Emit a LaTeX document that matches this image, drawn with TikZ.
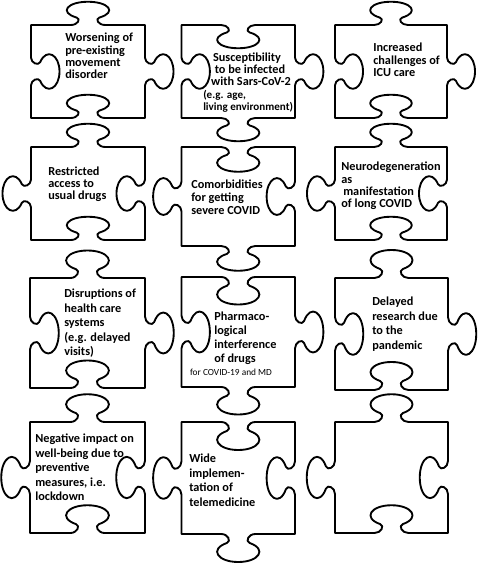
\documentclass[tikz,border=0pt]{standalone}
\usepackage{fontspec}
\setmainfont{Carlito}
\newcommand\pztab[6]{%
 -- ({#1-0.75*(#3)},{#2-0.75*(#4)})
 .. controls ({#1-0.45*(#3)},{#2-0.45*(#4)}) and ({#1-0.3*(#3)+0.26*(#5)},{#2-0.3*(#4)+0.26*(#6)})
 .. ({#1-0.5*(#3)+0.32*(#5)},{#2-0.5*(#4)+0.32*(#6)})
 .. controls ({#1-1.3*(#3)+0.55*(#5)},{#2-1.3*(#4)+0.55*(#6)}) and ({#1-0.9*(#3)+(#5)},{#2-0.9*(#4)+(#6)})
 .. ({#1+(#5)},{#2+(#6)})
 .. controls ({#1+0.9*(#3)+(#5)},{#2+0.9*(#4)+(#6)}) and ({#1+1.3*(#3)+0.55*(#5)},{#2+1.3*(#4)+0.55*(#6)})
 .. ({#1+0.5*(#3)+0.32*(#5)},{#2+0.5*(#4)+0.32*(#6)})
 .. controls ({#1+0.3*(#3)+0.26*(#5)},{#2+0.3*(#4)+0.26*(#6)}) and ({#1+0.45*(#3)},{#2+0.45*(#4)})
 .. ({#1+0.75*(#3)},{#2+0.75*(#4)})
}
\newcommand\pzpiece[8]{%
 \pgfmathsetmacro\pzw{#3-#1}%
 \pgfmathsetmacro\pzh{#4-#2}%
 \pgfmathsetmacro\pzcx{(#1+#3)/2}%
 \pgfmathsetmacro\pzcy{(#2+#4)/2}%
 \draw[pzline] (#1,#2) \pztab{\pzcx}{#2}{0.2*\pzw}{0}{0}{-0.25*\pzh*(#5)}
  -- (#3,#2) \pztab{#3}{\pzcy}{0}{0.2*\pzh}{0.25*\pzw*(#6)}{0}
  -- (#3,#4) \pztab{\pzcx}{#4}{-0.2*\pzw}{0}{0}{0.25*\pzh*(#7)}
  -- (#1,#4) \pztab{#1}{\pzcy}{0}{-0.2*\pzh}{-0.25*\pzw*(#8)}{0}
  -- cycle;
}
\begin{document}
\begin{tikzpicture}[x=0.75pt,y=-0.75pt,
  pzline/.style={line width=1.4pt, line join=round, draw=black},
  lbl/.style={font=\bfseries\fontsize{9.2}{11}\selectfont, anchor=base west, inner sep=0pt},
  lblc/.style={lbl, anchor=base},
  lbls/.style={lbl, font=\bfseries\fontsize{8.3}{10}\selectfont},
  lblr/.style={font=\fontsize{7}{8}\selectfont, anchor=base, inner sep=0pt}]
\fill[white] (0,0) rectangle (480,564);
\useasboundingbox (0,0) rectangle (480,564);
% row 1
\pzpiece{31}{25}{145}{118}{1}{1}{-1}{-1}
\pzpiece{181.5}{25}{295}{118}{-1}{1}{1}{-1}
\pzpiece{335}{25}{447}{118}{1}{1}{-1}{-1}
% row 2
\pzpiece{31}{147}{145}{240}{1}{-1}{-1}{1}
\pzpiece{181.5}{147}{295}{246}{-1}{-1}{1}{1}
\pzpiece{335}{147}{447}{240}{1}{-1}{-1}{1}
% row 3
\pzpiece{30}{278}{145}{388}{1}{1}{-1}{-1}
\pzpiece{181.5}{277}{295}{387}{-1}{1}{1}{-1}
\pzpiece{335}{278}{448}{390}{1}{1}{-1}{-1}
% row 4
\pzpiece{30}{422}{145}{533}{1}{-1}{-1}{1}
\pzpiece{181.5}{422}{295}{534}{-1}{-1}{1}{1}
\pzpiece{335}{422}{448}{533}{1}{-1}{-1}{1}
% texts
\node[lbl] (t1a) at (65,41.5) {Worsening of};
\node[lbl] (t1b) at (65,54.5) {pre-existing};
\node[lbl] (t1c) at (65,66.5) {movement};
\node[lbl] (t1d) at (65,78.5) {disorder};
\node[lblc] (t2a) at (247,61.5) {Susceptibility};
\node[lblc] (t2b) at (250,73.5) {to be infected};
\node[lblc] (t2c) at (251,85.5) {with Sars-CoV-2};
\node[lbls] (t2d) at (203,98.5) {(e.g. age,};
\node[lbls] (t2e) at (203,110.5) {living environment)};
\node[lbl] (t3a) at (373,51.5) {Increased};
\node[lbl] (t3b) at (373,64.5) {challenges of};
\node[lbl] (t3c) at (373,76.5) {ICU care};
\node[lbl] (t4a) at (48,175.5) {Restricted};
\node[lbl] (t4b) at (48,187.5) {access to};
\node[lbl] (t4c) at (48,199.5) {usual drugs};
\node[lbl] (t5a) at (191,188.5) {Comorbidities};
\node[lbl] (t5b) at (191,201.5) {for getting};
\node[lbl] (t5c) at (191,214.5) {severe COVID};
\node[lbl] (t6a) at (341,170.5) {Neurodegeneration};
\node[lbl] (t6b) at (341,183.5) {as};
\node[lbl] (t6c) at (343,195.5) {manifestation};
\node[lbl] (t6d) at (341,207.5) {of long COVID};
\node[lbl] (t7a) at (64,297.5) {Disruptions of};
\node[lbl] (t7b) at (64,312) {health care};
\node[lbl] (t7c) at (64,326.5) {systems};
\node[lbl] (t7d) at (64,341) {(e.g. delayed};
\node[lbl] (t7e) at (64,355.5) {visits)};
\node[lbl] (t8a) at (214,320.5) {Pharmaco-};
\node[lbl] (t8b) at (214,334.5) {logical};
\node[lbl] (t8c) at (214,348.5) {interference};
\node[lbl] (t8d) at (214,362) {of drugs};
\node[lblr] (t8e) at (231,375.5) {for COVID-19 and MD};
\node[lbl] (t9a) at (372,305.5) {Delayed};
\node[lbl] (t9b) at (372,320) {research due};
\node[lbl] (t9c) at (372,334.5) {to the};
\node[lbl] (t9d) at (372,349) {pandemic};
\node[lbl] (t10a) at (35,442.5) {Negative impact on};
\node[lbl] (t10b) at (35,457) {well-being due to};
\node[lbl] (t10c) at (35,471.5) {preventive};
\node[lbl] (t10d) at (35,486) {measures, i.e.};
\node[lbl] (t10e) at (35,500.5) {lockdown};
\node[lbl] (t11a) at (189,462.5) {Wide};
\node[lbl] (t11b) at (189,477) {implemen-};
\node[lbl] (t11c) at (189,491.5) {tation of};
\node[lbl] (t11d) at (189,506) {telemedicine};
\end{tikzpicture}
\end{document}
